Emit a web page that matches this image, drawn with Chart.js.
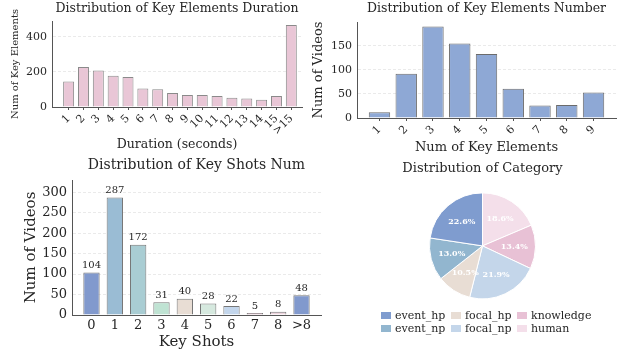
<!DOCTYPE html>
<html>
<head>
<meta charset="utf-8">
<script src="https://cdn.jsdelivr.net/npm/chart.js@4"></script>
<style>
  body { margin: 0; background: #fff; }
  #wrap { position: relative; width: 623px; height: 354px; overflow: hidden; }
  .panel { position: absolute; }
  #legend {
    position: absolute; left: 381px; top: 309px;
    display: grid; grid-auto-flow: column;
    grid-template-columns: 70px 66px auto; grid-template-rows: 13.3px 13.3px;
    font: 11px 'DejaVu Serif', serif; color: #262626; line-height: 13.3px;
  }
  #legend span.box { display: inline-block; width: 10px; height: 7px; margin-right: 4px; vertical-align: 0px; }
</style>
</head>
<body>
<div id="wrap">
  <canvas id="durationChart" class="panel" style="left:0;top:0" width="310" height="160"></canvas>
  <canvas id="elementChart" class="panel" style="left:310px;top:0" width="313" height="160"></canvas>
  <canvas id="shotChart" class="panel" style="left:0;top:150px" width="330" height="204"></canvas>
  <canvas id="categoryChart" class="panel" style="left:360px;top:150px" width="263" height="204"></canvas>
  <div id="legend"></div>
</div>
<script>
// key element duration (seconds)
const durationLabels = ['1','2','3','4','5','6','7','8','9','10','11','12','13','14','15','>15'];
const durationCounts = [145, 227, 208, 177, 171, 105, 101, 79, 68, 68, 62, 53, 49, 41, 62, 466];
const durationTicks = [0, 200, 400];

// key elements per video
const elementLabels = ['1','2','3','4','5','6','7','8','9'];
const elementCounts = [12, 92, 190, 155, 133, 61, 26, 27, 53];
const elementTicks = [0, 50, 100, 150];

// key shots per video
const shotLabels = ['0','1','2','3','4','5','6','7','8','>8'];
const shotCounts = [104, 287, 172, 31, 40, 28, 22, 5, 8, 48];
const shotTicks = [0, 50, 100, 150, 200, 250, 300];

// category share (%)
const categoryNames = ['event_hp','event_np','focal_hp','focal_np','knowledge','human'];
const categoryShares = [22.6, 13.0, 10.5, 21.9, 13.4, 18.6];

const shotColors = ['#8199cd','#9abcd4','#a9cdd3','#bfe3d3','#e8ddd4','#d6e9df','#c3d6ec','#d8a9bd','#ecd4dd','#8199cd'];
const categoryColors = ['#7f9ccf','#92b6cf','#e8ddd4','#c4d6ea','#e8c1d5','#f4dfea'];

const ink = '#262626';
Chart.defaults.font.family = "'DejaVu Serif', serif";
Chart.defaults.color = ink;

// numbers above the bars
const barValueLabels = {
  id: 'barValueLabels',
  afterDatasetsDraw(chart) {
    const ctx = chart.ctx;
    const meta = chart.getDatasetMeta(0);
    ctx.save();
    ctx.font = "10px 'DejaVu Serif', serif";
    ctx.fillStyle = ink;
    ctx.textAlign = 'center';
    ctx.textBaseline = 'bottom';
    meta.data.forEach((bar, i) => {
      ctx.fillText(chart.data.datasets[0].data[i].y, bar.x, bar.y - 2);
    });
    ctx.restore();
  }
};

function barChart(id, o) {
  return new Chart(document.getElementById(id), {
    type: 'bar',
    data: {
      datasets: [{
        data: o.values.map((v, i) => ({x: i, y: v})),
        backgroundColor: o.colors,
        borderColor: o.edge,
        borderWidth: 1,
        barPercentage: o.barWidth,
        categoryPercentage: 1
      }]
    },
    options: {
      responsive: false,
      animation: false,
      layout: {padding: o.pad},
      plugins: {
        legend: {display: false},
        tooltip: {enabled: false},
        title: {display: true, text: o.title, fullSize: false, color: ink,
                font: {size: o.titleSize, weight: 'normal'}, padding: o.titlePad}
      },
      scales: {
        x: {
          type: 'linear', offset: false, min: o.xMin, max: o.xMax,
          afterBuildTicks: s => { s.ticks = o.labels.map((_, i) => ({value: i})); },
          afterFit: s => { s.height = o.xHeight; },
          ticks: {callback: v => o.labels[v], autoSkip: false, maxRotation: o.rot, minRotation: o.rot,
                  font: {size: o.tickSize}, color: ink, padding: o.xTickPad},
          grid: {drawOnChartArea: false, drawTicks: o.xTicks, tickLength: 3, color: '#555', offset: false},
          border: {color: '#555', width: 1},
          title: {display: true, text: o.xTitle, color: ink, font: {size: o.xTitleSize}, padding: {top: 0, bottom: o.xTitlePad}}
        },
        y: {
          min: 0, max: o.yMax,
          afterBuildTicks: s => { s.ticks = o.yTicks.map(v => ({value: v})); },
          afterFit: s => { s.width = o.yWidth; },
          ticks: {font: {size: o.tickSize}, color: ink, padding: 5},
          grid: {color: '#e4e4e4', lineWidth: 0.8, drawTicks: false},
          border: {color: '#555', width: 1, dash: [3, 2]},
          title: {display: true, text: o.yTitle, color: ink, font: {size: o.yTitleSize}, padding: {top: o.yTitlePad, bottom: 0}}
        }
      }
    },
    plugins: o.plugins || []
  });
}

barChart('durationChart', {
  values: durationCounts, labels: durationLabels, yTicks: durationTicks,
  colors: '#e9c6d6', edge: '#8a8a8a', barWidth: 0.74,
  title: 'Distribution of Key Elements Duration', titleSize: 12.5, titlePad: {top: 1, bottom: 5},
  pad: {left: 0, right: 8, top: 0, bottom: 0},
  xMin: -1.12, xMax: 15.72, xHeight: 53, rot: 45, xTicks: true, xTickPad: 2, tickSize: 11,
  xTitle: 'Duration (seconds)', xTitleSize: 12.5, xTitlePad: 7.5,
  yMax: 489, yWidth: 52, yTitle: 'Num of Key Elements', yTitleSize: 10, yTitlePad: 9
});

barChart('elementChart', {
  values: elementCounts, labels: elementLabels, yTicks: elementTicks,
  colors: '#8ea8d5', edge: '#6b6b6b', barWidth: 0.8,
  title: 'Distribution of Key Elements Number', titleSize: 12.5, titlePad: {top: 1.5, bottom: 5.5},
  pad: {left: 0, right: 7, top: 0, bottom: 0},
  xMin: -0.84, xMax: 8.84, xHeight: 42, rot: 45, xTicks: true, xTickPad: 2, tickSize: 11,
  xTitle: 'Num of Key Elements', xTitleSize: 13, xTitlePad: 4.2,
  yMax: 199.5, yWidth: 47, yTitle: 'Num of Videos', yTitleSize: 13, yTitlePad: 1.2
});

barChart('shotChart', {
  values: shotCounts, labels: shotLabels, yTicks: shotTicks,
  colors: shotColors, edge: '#777', barWidth: 0.7,
  title: 'Distribution of Key Shots Num', titleSize: 14, titlePad: {top: 6.9, bottom: 6.3},
  pad: {left: 0, right: 9, top: 0, bottom: 0},
  xMin: -0.835, xMax: 9.835, xHeight: 39, rot: 0, xTicks: false, xTickPad: 3, tickSize: 13,
  xTitle: 'Key Shots', xTitleSize: 15, xTitlePad: 3,
  yMax: 330, yWidth: 72, yTitle: 'Num of Videos', yTitleSize: 15, yTitlePad: 22,
  plugins: [barValueLabels]
});

// percentage text inside each slice
const sliceLabels = {
  id: 'sliceLabels',
  afterDatasetsDraw(chart) {
    const ctx = chart.ctx;
    const meta = chart.getDatasetMeta(0);
    ctx.save();
    ctx.font = "bold 8px 'DejaVu Serif', serif";
    ctx.fillStyle = '#fff';
    ctx.textAlign = 'center';
    ctx.textBaseline = 'middle';
    meta.data.forEach((arc, i) => {
      const mid = (arc.startAngle + arc.endAngle) / 2;
      const r = arc.outerRadius * 0.6;
      ctx.fillText(chart.data.datasets[0].data[i].toFixed(1) + '%', arc.x + Math.cos(mid) * r, arc.y + Math.sin(mid) * r);
    });
    ctx.restore();
  }
};

// slices run counter-clockwise from the top, so feed them reversed
new Chart(document.getElementById('categoryChart'), {
  type: 'pie',
  data: {
    labels: categoryNames.slice().reverse(),
    datasets: [{
      data: categoryShares.slice().reverse(),
      backgroundColor: categoryColors.slice().reverse(),
      borderColor: '#fff',
      borderWidth: 1
    }]
  },
  options: {
    responsive: false,
    animation: false,
    radius: 53,
    layout: {padding: {left: 0, right: 18, top: 0, bottom: 55}},
    plugins: {
      legend: {display: false},
      tooltip: {enabled: false},
      title: {display: true, text: 'Distribution of Category', fullSize: false, color: ink,
              font: {size: 13, weight: 'normal'}, padding: {top: 11.2, bottom: 16}}
    }
  },
  plugins: [sliceLabels]
});

var legend = document.getElementById('legend');
categoryNames.forEach(function(name, i) {
  var item = document.createElement('div');
  item.innerHTML = '<span class="box" style="background:' + categoryColors[i] + '"></span>' + name;
  legend.appendChild(item);
});
</script>
</body>
</html>
